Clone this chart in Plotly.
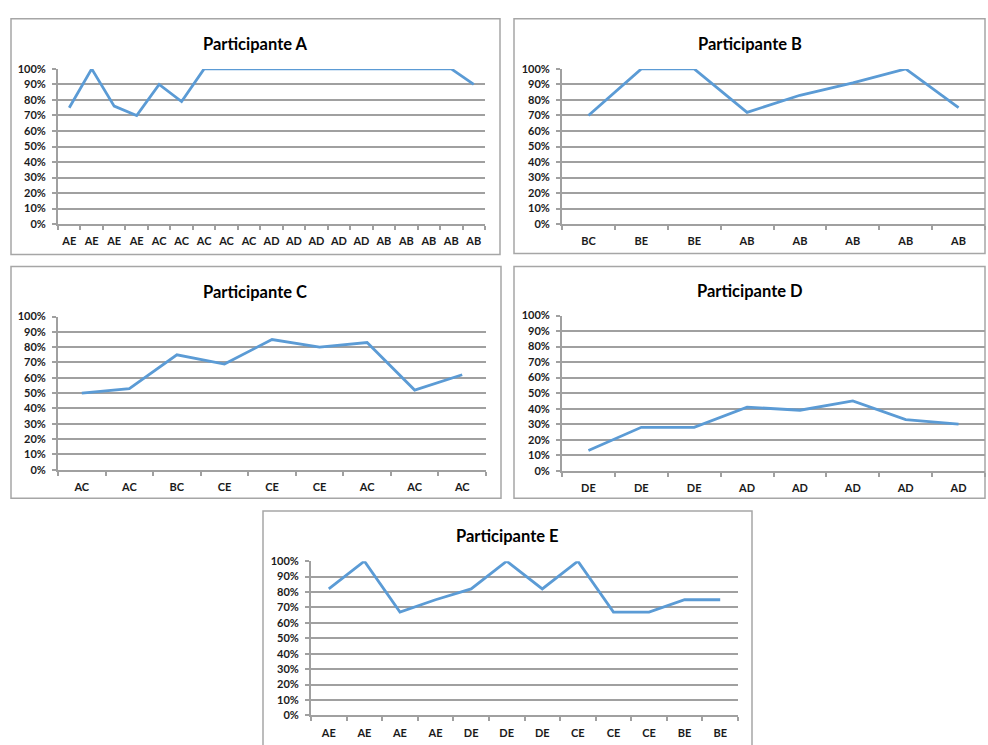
import plotly.graph_objects as go

W, H = 988, 745

# ---- data ----
labels_A = ["AE", "AE", "AE", "AE", "AC", "AC", "AC", "AC", "AC", "AD", "AD", "AD", "AD", "AD", "AB", "AB", "AB", "AB", "AB"]
values_A = [75, 100, 76, 70, 90, 79, 100, 100, 100, 100, 100, 100, 100, 100, 100, 100, 100, 100, 90]

labels_B = ["BC", "BE", "BE", "AB", "AB", "AB", "AB", "AB"]
values_B = [70, 100, 100, 72, 83, 91, 100, 75]

labels_C = ["AC", "AC", "BC", "CE", "CE", "CE", "AC", "AC", "AC"]
values_C = [50, 53, 75, 69, 85, 80, 83, 52, 62]

labels_D = ["DE", "DE", "DE", "AD", "AD", "AD", "AD", "AD"]
values_D = [13, 28, 28, 41, 39, 45, 33, 30]

labels_E = ["AE", "AE", "AE", "AE", "DE", "DE", "DE", "CE", "CE", "CE", "BE", "BE"]
values_E = [82, 100, 67, 75, 82, 100, 82, 100, 67, 67, 75, 75]

titles = ["Participante A", "Participante B", "Participante C", "Participante D", "Participante E"]
y_ticks = [0, 10, 20, 30, 40, 50, 60, 70, 80, 90, 100]
y_tick_labels = ["0%", "10%", "20%", "30%", "40%", "50%", "60%", "70%", "80%", "90%", "100%"]

# ---- layout geometry (pixels) ----
panels = [
    dict(px=(58, 485), py=(63, 221), box=(11, 12, 500, 252), t=(255, 38)),
    dict(px=(562, 985), py=(63, 221), box=(514, 12, 985, 251), t=(750, 38)),
    dict(px=(58, 486), py=(315, 471), box=(11, 264, 501, 500), t=(255, 290)),
    dict(px=(562, 985), py=(314, 472), box=(514, 264, 985, 500), t=(750, 289)),
    dict(px=(311, 738), py=(564, 721), box=(263, 513, 752, 760), t=(507, 538)),
]
series = [(labels_A, values_A), (labels_B, values_B), (labels_C, values_C),
          (labels_D, values_D), (labels_E, values_E)]

LINE = "#5B9BD5"
GRID = "#A0A0A0"
TXT = "#1a1a1a"
FONT = "Lato"

fig = go.Figure()
shapes = []
annotations = []
layout_axes = {}

for i, (p, (labs, vals)) in enumerate(zip(panels, series)):
    n = i + 1
    xa = "x" if n == 1 else f"x{n}"
    ya = "y" if n == 1 else f"y{n}"
    keys = [str(k) for k in range(len(labs))]
    fig.add_trace(go.Scatter(x=keys, y=vals, mode="lines",
                             line=dict(color=LINE, width=2.8),
                             xaxis=xa, yaxis=ya, showlegend=False,
                             hoverinfo="skip"))
    xname = "xaxis" if n == 1 else f"xaxis{n}"
    yname = "yaxis" if n == 1 else f"yaxis{n}"
    layout_axes[xname] = dict(
        domain=[p["px"][0] / W, p["px"][1] / W],
        anchor=ya, type="category",
        tickvals=keys, ticktext=labs, tickson="boundaries", tickangle=0,
        ticks="outside", ticklen=4, tickcolor=GRID, tickwidth=1.5,
        ticklabelstandoff=6,
        showgrid=False, showline=True, linecolor=GRID, linewidth=1.8,
        tickfont=dict(family=FONT, size=11, color=TXT, weight="bold"),
        range=[-0.5, len(labs) - 0.5], fixedrange=True,
    )
    layout_axes[yname] = dict(
        domain=[1 - p["py"][1] / H, 1 - p["py"][0] / H],
        anchor=xa, range=[0, 100], tickvals=y_ticks, ticktext=y_tick_labels,
        showgrid=True, gridcolor=GRID, gridwidth=2,
        showline=True, linecolor=GRID, linewidth=1.8,
        ticks="outside", ticklen=4, tickcolor=GRID, tickwidth=1.5,
        ticklabelstandoff=4,
        zeroline=False,
        tickfont=dict(family=FONT, size=11, color=TXT, weight="bold"),
        fixedrange=True,
    )
    bx0, by0, bx1, by1 = p["box"]
    shapes.append(dict(type="rect", xref="paper", yref="paper",
                       x0=bx0 / W, x1=bx1 / W, y0=1 - by1 / H, y1=1 - by0 / H,
                       line=dict(color="#A6A6A6", width=1.5), layer="below"))
    annotations.append(dict(text=titles[i], xref="paper", yref="paper",
                            x=p["t"][0] / W, y=1 - p["t"][1] / H,
                            xanchor="center", yanchor="middle", showarrow=False,
                            font=dict(family=FONT, size=16.5, color="#000000", weight="bold")))

fig.update_layout(
    width=W, height=H,
    margin=dict(l=0, r=0, t=0, b=0),
    paper_bgcolor="white", plot_bgcolor="white",
    shapes=shapes, annotations=annotations,
    **layout_axes,
)

fig.write_html(
    "out.html", config={"displayModeBar": False},
    post_script=(
        "document.body.style.margin='0';document.body.style.padding='0';"
        "document.body.style.overflow='hidden';"
    ),
)
